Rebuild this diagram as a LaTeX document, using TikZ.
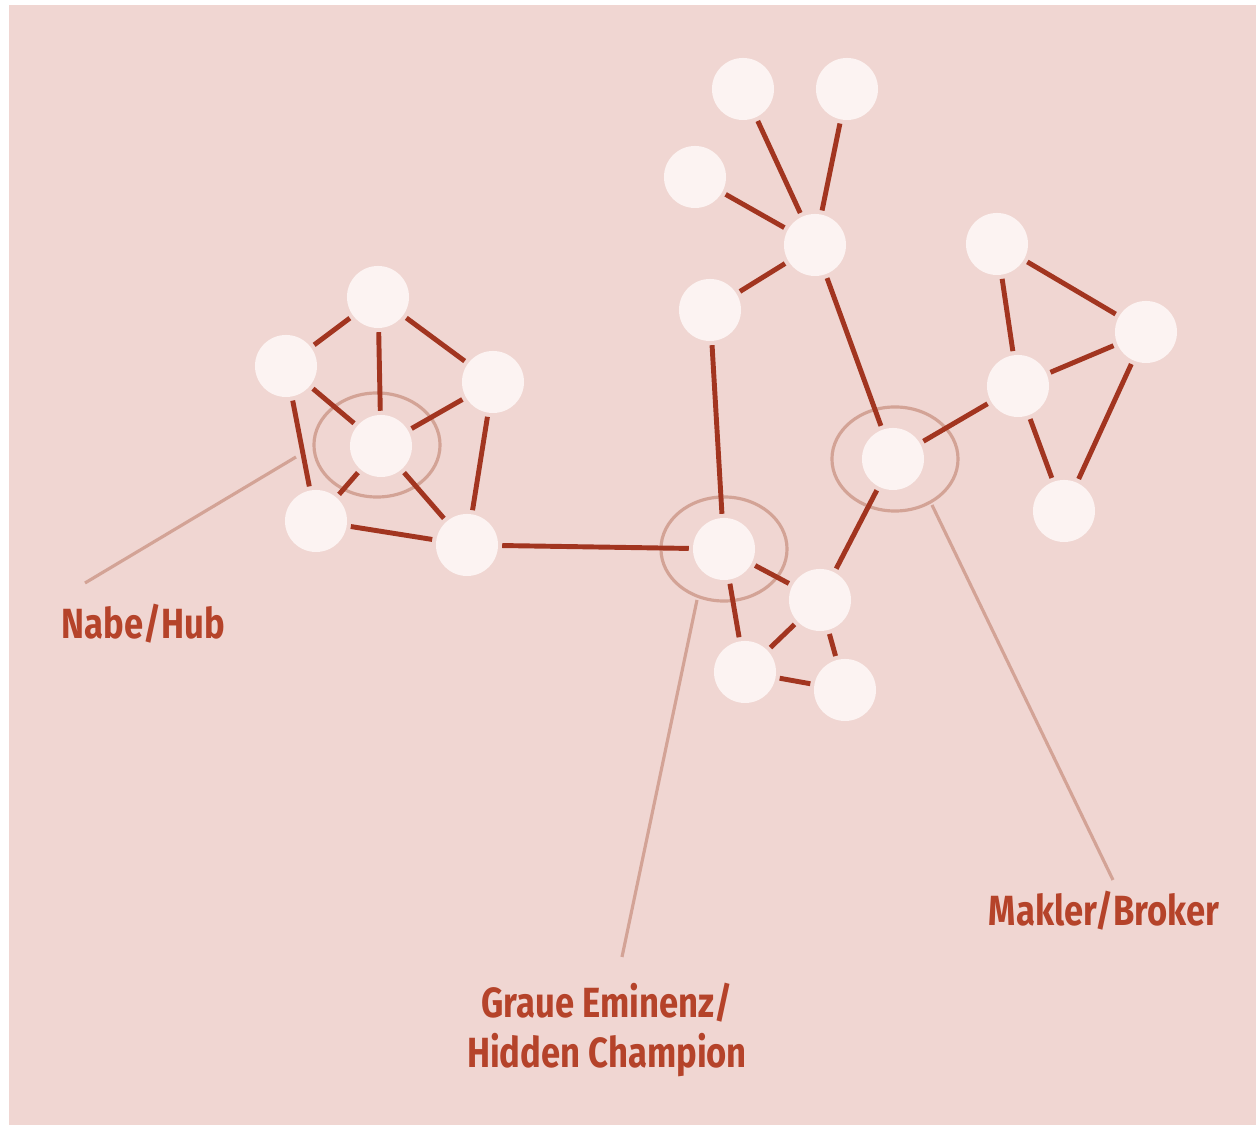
\documentclass[tikz,border=0pt]{standalone}
\usepackage{fontspec}
\usepackage{xcolor}
\usepackage{tikz}
\usetikzlibrary{shapes.geometric}
\newfontfamily\lblfont[FakeStretch=0.82]{Fira Sans}
\definecolor{netbg}{HTML}{F0D6D2}
\definecolor{netdot}{HTML}{FCF3F2}
\definecolor{netline}{HTML}{A23520}
\definecolor{netring}{HTML}{D3A396}
\definecolor{nettext}{HTML}{B5432A}

\begin{document}
\begin{tikzpicture}[x=0.01cm, y=-0.01cm,
    dot/.style={circle, fill=netdot, minimum size=0.62cm, inner sep=0pt},
    tie/.style={draw=netline, line width=1.4pt, shorten <=1pt, shorten >=1pt},
    ring/.style={draw=netring, ellipse, line width=0.9pt, minimum width=1.26cm, minimum height=1.04cm, inner sep=0pt},
    ptr/.style={draw=netring, line width=0.9pt},
    tag/.style={text=nettext, font=\lblfont\bfseries\fontsize{12}{14}\selectfont, inner sep=0pt}]
    \useasboundingbox (0,0) rectangle (1256,1125);
    \fill[white] (0,0) rectangle (1256,1125);
    \fill[netbg] (9,5) rectangle (1256,1125);

    % rings
    \node[ring] (hubring) at (377,445) {};
    \node[ring] (greyring) at (724,549) {};
    \node[ring] (brokring) at (895,459) {};

    % left cluster
    \node[dot] (ltop) at (378,297) {};
    \node[dot] (lul) at (286,366) {};
    \node[dot] (lur) at (493,382) {};
    \node[dot] (hub) at (381,446) {};
    \node[dot] (lll) at (316,521) {};
    \node[dot] (llr) at (467,545) {};

    % middle
    \node[dot] (grey) at (724,549) {};
    \node[dot] (mup) at (710,310) {};
    \node[dot] (star) at (815,245) {};
    \node[dot] (sa) at (743,89) {};
    \node[dot] (sb) at (847,89) {};
    \node[dot] (sc) at (695,177) {};
    \node[dot] (broker) at (893,459) {};
    \node[dot] (tri) at (820,600) {};
    \node[dot] (tria) at (745,672) {};
    \node[dot] (trib) at (845,690) {};

    % right cluster
    \node[dot] (ra) at (997,244) {};
    \node[dot] (rb) at (1146,332) {};
    \node[dot] (rc) at (1018,386) {};
    \node[dot] (rd) at (1064,511) {};

    \draw[tie] (ltop) -- (lul);
    \draw[tie] (ltop) -- (lur);
    \draw[tie] (ltop) -- (hub);
    \draw[tie] (lul) -- (hub);
    \draw[tie] (lur) -- (hub);
    \draw[tie] (lul) -- (lll);
    \draw[tie] (lur) -- (llr);
    \draw[tie] (hub) -- (lll);
    \draw[tie] (hub) -- (llr);
    \draw[tie] (lll) -- (llr);
    \draw[tie] (llr) -- (grey);

    \draw[tie] (mup) -- (grey);
    \draw[tie] (mup) -- (star);
    \draw[tie] (sa) -- (star);
    \draw[tie] (sb) -- (star);
    \draw[tie] (sc) -- (star);
    \draw[tie] (star) -- (broker);
    \draw[tie] (grey) -- (tri);
    \draw[tie] (grey) -- (tria);
    \draw[tie] (broker) -- (tri);
    \draw[tie] (tri) -- (tria);
    \draw[tie] (tri) -- (trib);
    \draw[tie] (tria) -- (trib);

    \draw[tie] (broker) -- (rc);
    \draw[tie] (ra) -- (rb);
    \draw[tie] (ra) -- (rc);
    \draw[tie] (rc) -- (rb);
    \draw[tie] (rb) -- (rd);
    \draw[tie] (rc) -- (rd);

    % labels
    \node[tag, anchor=west] (nabe) at (61,624) {Nabe/Hub};
    \node[tag, align=center] (graue) at (607,1030) {Graue Eminenz/\\Hidden Champion};
    \node[tag] (makler) at (1104,911) {Makler/Broker};

    \coordinate (hubtip) at (296,457);
    \coordinate (hubfoot) at (85,583);
    \coordinate (greytip) at (697,600);
    \coordinate (greyfoot) at (622,957);
    \coordinate (broktip) at (932,505);
    \coordinate (brokfoot) at (1113,880);
    \draw[ptr] (hubfoot) -- (hubtip);
    \draw[ptr] (greyfoot) -- (greytip);
    \draw[ptr] (brokfoot) -- (broktip);
\end{tikzpicture}
\end{document}
